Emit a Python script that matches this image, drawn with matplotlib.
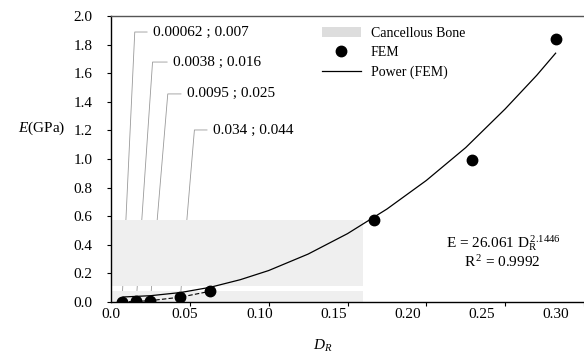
import numpy as np
import matplotlib.pyplot as plt
from matplotlib.patches import Patch
from matplotlib.lines import Line2D

plt.rcParams['font.family'] = 'Liberation Serif'
plt.rcParams['mathtext.fontset'] = 'custom'
plt.rcParams['mathtext.rm'] = 'Liberation Serif'
plt.rcParams['mathtext.it'] = 'Liberation Serif:italic'

# FEM results: relative density D_R and modulus E (GPa)
fem_dr = [0.007, 0.016, 0.025, 0.044, 0.063, 0.167, 0.229, 0.282]
fem_e = [0.00062, 0.0038, 0.0095, 0.034, 0.075, 0.57, 0.99, 1.84]

# power trend line
fit_dr = [0.0076, 0.025, 0.044, 0.063, 0.082, 0.10, 0.125, 0.15, 0.175, 0.20, 0.225, 0.25, 0.27, 0.282]
fit_e = [0.035, 0.044, 0.066, 0.103, 0.156, 0.22, 0.335, 0.478, 0.65, 0.85, 1.08, 1.35, 1.585, 1.74]

# cancellous bone range (two bands with a gap)
bone_dr = [0.0, 0.16]
bone_low = [0.0, 0.077]
bone_high = [0.112, 0.573]

xtick_vals = [0.0, 0.05, 0.10, 0.15, 0.20, 0.25, 0.30]
xtick_labels = ['0.0', '0.05', '0.10', '0.15', '0.20', '0.25', '0.30']
ytick_vals = [0.0, 0.2, 0.4, 0.6, 0.8, 1.0, 1.2, 1.4, 1.6, 1.8, 2.0]

# callout label positions (data coords) and leader angles for the first four points
ann_pos = [(0.0265, 1.888), (0.0392, 1.678), (0.048, 1.455), (0.0645, 1.203)]
ann_angle = [87.3, 86.1, 85.2, 85.2]

fig = plt.figure(figsize=(5.84, 3.57), dpi=100)
ax = fig.add_axes([111/584, 1 - 302/357, 473/584, 286/357])

ax.fill_between(bone_dr, bone_low[0], bone_low[1], color='#efefef', lw=0, zorder=1.5)
ax.fill_between(bone_dr, bone_high[0], bone_high[1], color='#efefef', lw=0, zorder=1.5)

ax.plot(fem_dr[:5], fem_e[:5], color='black', lw=0.8, ls=(0, (4, 2)), zorder=2)
ax.plot(fit_dr, fit_e, color='black', lw=0.9, zorder=2.5)
ax.plot(fem_dr, fem_e, 'o', color='black', ms=7.5, zorder=3)

for i in range(4):
    ax.annotate(f'{fem_e[i]} ; {fem_dr[i]}', xy=(fem_dr[i], fem_e[i]), xytext=ann_pos[i],
                textcoords='data', ha='left', va='center', fontsize=11, zorder=1,
                arrowprops=dict(arrowstyle='-', color='#999999', lw=0.6, shrinkB=0,
                                connectionstyle=f'angle,angleA=0,angleB={ann_angle[i]},rad=0'))

ax.text(0.829, 0.206, r'E = 26.061 D$_\mathrm{R}^{\,\mathrm{2.1446}}$', transform=ax.transAxes,
        ha='center', va='center', fontsize=11)
ax.text(0.827, 0.140, r'R$^{\,\mathrm{2}}$ = 0.9992', transform=ax.transAxes,
        ha='center', va='center', fontsize=11)

ax.set_xlim(0, 0.299)
ax.set_ylim(0, 2.0)

# tick labels sit slightly left of their tick marks in the original
ax.set_xticks([v * 0.94 for v in xtick_vals], xtick_labels)
ax.set_xticks(xtick_vals, minor=True)
ax.tick_params(axis='x', which='major', length=0, pad=4.5, labelsize=11)
ax.tick_params(axis='x', which='minor', length=3, width=0.8, direction='out')
ax.set_yticks(ytick_vals, [f'{v:.1f}' for v in ytick_vals])
ax.tick_params(axis='y', length=3, width=0.8, direction='out', pad=10.5, labelsize=11)

ax.spines['right'].set_visible(False)
ax.spines['top'].set_color('#555555')
ax.spines['top'].set_linewidth(1.0)
ax.spines['left'].set_linewidth(1.0)
ax.spines['bottom'].set_linewidth(1.0)

ax.set_ylabel(r'$E$(GPa)', rotation=0, ha='right', va='center', fontsize=11)
ax.yaxis.set_label_coords(-0.097, 0.608)
ax.set_xlabel(r'$D_R$', va='center', fontsize=11)
ax.xaxis.set_label_coords(0.448, -0.154)

handles = [Patch(facecolor='#dddddd', edgecolor='none'),
           Line2D([], [], marker='o', ls='none', color='black', ms=7.5),
           Line2D([], [], color='black', lw=0.9)]
ax.legend(handles, ['Cancellous Bone', 'FEM', 'Power (FEM)'], loc='upper left',
          bbox_to_anchor=(0.446, 0.962), frameon=False, fontsize=10, borderpad=0,
          borderaxespad=0, handlelength=2.8, handletextpad=0.7, labelspacing=0.45)

fig.savefig('out.png', dpi=100)
